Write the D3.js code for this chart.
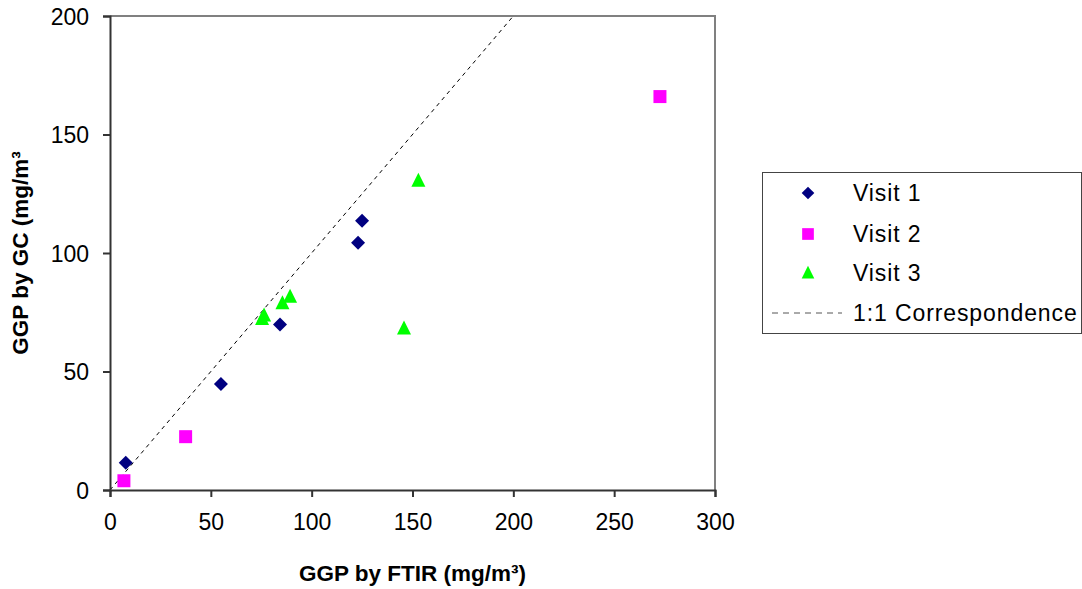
<!DOCTYPE html>
<html><head><meta charset="utf-8">
<script src="https://cdn.jsdelivr.net/npm/d3@7"></script>
<style>
body{margin:0;background:#fff;}
text{font-family:"Liberation Sans",Arial,sans-serif;fill:#000;}
</style></head>
<body><svg id="c" width="1082" height="589"></svg>
<script>
const visit1 = [[7.8,11.5],[55,44.7],[84.3,69.8],[123,104.3],[125,113.6]];
const visit2 = [[6.9,3.9],[37.5,22.5],[272.7,166]];
const visit3 = [[75.4,72.2],[76.4,73.6],[85.5,78.8],[89.3,81.5],[145.8,68.1],[152.9,130.5]];
const oneToOne = [[0,0],[200,200]];
const xTicks = [0,50,100,150,200,250,300];
const yTicks = [0,50,100,150,200];
const legendLabels = ["Visit 1","Visit 2","Visit 3","1:1 Correspondence"];
const xTitle = "GGP by FTIR (mg/m³)";
const yTitle = "GGP by GC (mg/m³";

const svg = d3.select("#c");
const L=110,R=715,T=16,B=490;
const x = d3.scaleLinear().domain([0,300]).range([L,R]);
const y = d3.scaleLinear().domain([0,200]).range([B,T]);

svg.append("path").attr("d",`M${L},${T}H${R}V${B}`).attr("fill","none").attr("stroke","#808080").attr("stroke-width",2);

svg.append("path").datum(oneToOne)
  .attr("d",d3.line().x(d=>x(d[0])).y(d=>y(d[1])))
  .attr("stroke","#000").attr("stroke-width",1).attr("stroke-dasharray","4,4").attr("fill","none");

const xa = svg.append("g").attr("transform",`translate(0,${B})`)
  .call(d3.axisBottom(x).tickValues(xTicks).tickSize(7).tickPadding(17).tickFormat(d3.format("d")));
const ya = svg.append("g").attr("transform",`translate(${L},0)`)
  .call(d3.axisLeft(y).tickValues(yTicks).tickSize(7).tickPadding(14).tickFormat(d3.format("d")));
[xa,ya].forEach(a=>{
  a.select(".domain").attr("stroke","#333").attr("stroke-width",2);
  a.selectAll(".tick line").attr("stroke","#333").attr("stroke-width",2);
  a.selectAll("text").style("font-family","Liberation Sans, Arial, sans-serif").style("font-size","23px").attr("fill","#000");
});
xa.selectAll("text").attr("dy","0.71em");
ya.selectAll("text").attr("dy","0.36em");

svg.append("text").attr("x",(L+R)/2).attr("y",581).attr("text-anchor","middle")
  .style("font-size","22.5px").style("font-weight","bold").text(xTitle);
svg.append("text").attr("transform",`translate(28,${(T+B)/2}) rotate(-90)`).attr("text-anchor","middle")
  .style("font-size","22.5px").style("font-weight","bold").text(yTitle);

function markers(data,path,color){
  svg.append("g").selectAll("path").data(data).join("path")
    .attr("transform",d=>`translate(${x(d[0])},${y(d[1])})`)
    .attr("d",path).attr("fill",color).attr("stroke","none");
}
const diamond = "M0,-7L7,0L0,7L-7,0Z";
const square = "M-6.5,-6.5H6.5V6.5H-6.5Z";
const tri = "M0,-8L7,6H-7Z";
markers(visit1,diamond,"#000080");
markers(visit2,square,"#ff00ff");
markers(visit3,tri,"#00ff00");

const lg = svg.append("g");
lg.append("rect").attr("x",762.5).attr("y",172.5).attr("width",319).attr("height",161)
  .attr("fill","#fff").attr("stroke","#444").attr("stroke-width",1);
const rowsY=[193,234,273,313];
const mk=[[diamond,"#000080"],[square,"#ff00ff"],[tri,"#00ff00"]];
mk.forEach((m,i)=>{
  lg.append("path").attr("transform",`translate(808,${rowsY[i]}) scale(0.9)`).attr("d",m[0]).attr("fill",m[1]);
});
lg.append("line").attr("x1",772).attr("x2",842).attr("y1",rowsY[3]).attr("y2",rowsY[3])
  .attr("stroke","#555").attr("stroke-dasharray","6,5");
legendLabels.forEach((t,i)=>{
  lg.append("text").attr("x",853).attr("y",rowsY[i]).attr("dy","0.36em").style("font-size","23px")
    .style("letter-spacing","0.9px").text(t);
});
</script></body></html>
